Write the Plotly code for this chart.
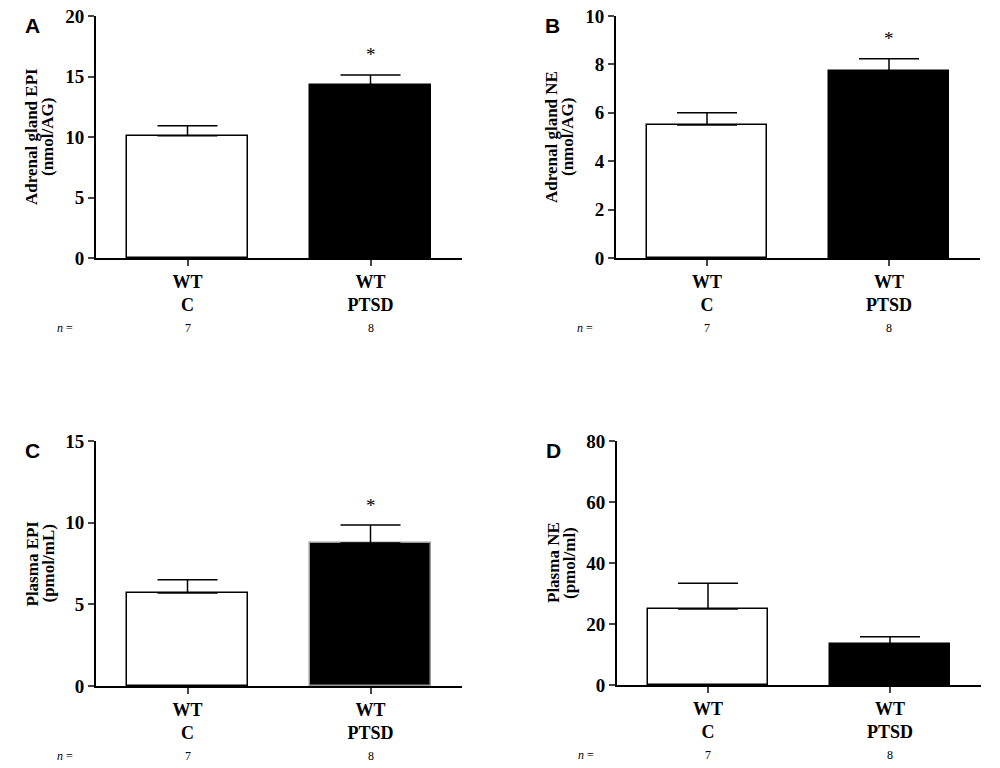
import plotly.graph_objects as go

# groups and counts
groups = ["WT<br>C", "WT<br>PTSD"]
n_counts = ["7", "8"]

# means and SEM
adrenal_epi = [10.1, 14.3]
adrenal_epi_sem = [0.83, 0.83]
adrenal_ne = [5.5, 7.73]
adrenal_ne_sem = [0.5, 0.5]
plasma_epi = [5.7, 8.75]
plasma_epi_sem = [0.8, 1.1]
plasma_ne = [24.9, 13.4]
plasma_ne_sem = [8.5, 2.4]

stars = [["", "*"], ["", "*"], ["", "*"], ["", ""]]

panels = [
    # letter, means, sem, y title lines, ymax, dtick, x span (px), y span (px from top)
    ("A", adrenal_epi, adrenal_epi_sem, ["Adrenal gland EPI", "(nmol/AG)"], 20, 5, (96, 462), (16, 258)),
    ("B", adrenal_ne, adrenal_ne_sem, ["Adrenal gland NE", "(nmol/AG)"], 10, 2, (616, 980), (16, 258)),
    ("C", plasma_epi, plasma_epi_sem, ["Plasma EPI", "(pmol/mL)"], 15, 5, (96, 462), (441, 686)),
    ("D", plasma_ne, plasma_ne_sem, ["Plasma NE", "(pmol/ml)"], 80, 20, (617, 981), (441, 685)),
]
outline = [["black", "black"], ["black", "black"], ["black", "#999999"], ["black", "black"]]

W, H = 1000, 768
serif = dict(family="Liberation Serif", color="black")


def px(x):
    return x / W


def py(y):
    return 1 - y / H


fig = go.Figure()
annotations = []
layout = {}

for i, (letter, means, sem, ytitle, ymax, dtick, xd, yd) in enumerate(panels):
    k = "" if i == 0 else str(i + 1)
    xa, ya = "x" + k, "y" + k
    fig.add_trace(go.Bar(
        x=[0, 1], y=means, width=0.66,
        marker=dict(color=["white", "black"], line=dict(color=outline[i], width=1.5)),
        error_y=dict(type="data", symmetric=False, array=sem, arrayminus=[0, 0],
                     color="black", thickness=1.5, width=30),
        xaxis=xa, yaxis=ya, showlegend=False,
    ))
    layout["xaxis" + k] = dict(
        domain=[px(xd[0]), px(xd[1])], anchor=ya, range=[-0.5, 1.5], automargin=False,
        tickvals=[0, 1], ticktext=groups, ticks="outside", ticklen=6, tickwidth=2,
        showline=True, linecolor="black", linewidth=2, showgrid=False, zeroline=False,
        ticklabeloverflow="allow",
        tickfont=dict(size=18, weight="bold", **serif),
    )
    layout["yaxis" + k] = dict(
        domain=[py(yd[1]), py(yd[0])], anchor=xa, range=[0, ymax], dtick=dtick, automargin=False,
        ticks="outside", ticklen=6, tickwidth=2,
        showline=True, linecolor="black", linewidth=2, showgrid=False, zeroline=False,
        ticklabeloverflow="allow",
        tickfont=dict(size=19, weight="bold", **serif),
    )
    # panel letter
    annotations.append(dict(text=letter, xref="paper", yref="paper",
                            x=px(xd[0] - 64), y=py(yd[0] + 9),
                            showarrow=False, xanchor="center", yanchor="middle",
                            font=dict(family="Liberation Sans", size=21, weight="bold", color="black")))
    # y title, two lines
    ymid = py((yd[0] + yd[1]) / 2)
    for j, line in enumerate(ytitle):
        annotations.append(dict(text=line, xref="paper", yref="paper",
                                x=px(xd[0] - 64 + 16 * j), y=ymid, textangle=-90,
                                showarrow=False, xanchor="center", yanchor="middle",
                                font=dict(size=17, weight="bold", **serif)))
    # significance stars
    for c in range(2):
        if stars[i][c]:
            annotations.append(dict(text=stars[i][c], xref=xa, yref=ya,
                                    x=c, y=means[c] + sem[c], yshift=20,
                                    showarrow=False, xanchor="center", yanchor="middle",
                                    font=dict(size=19, **serif)))
    # n row
    ny = py(yd[1] + 70)
    annotations.append(dict(text="<i>n</i> =", xref="paper", yref="paper",
                            x=px(xd[0] - 31), y=ny, showarrow=False,
                            xanchor="center", yanchor="middle",
                            font=dict(size=12, **serif)))
    for c in range(2):
        annotations.append(dict(text=n_counts[c], xref=xa, yref="paper",
                                x=c, y=ny, showarrow=False,
                                xanchor="center", yanchor="middle",
                                font=dict(size=12, **serif)))

fig.update_layout(
    width=W, height=H,
    margin=dict(l=0, r=0, t=0, b=0, autoexpand=False),
    plot_bgcolor="white", paper_bgcolor="white",
    bargap=0, annotations=annotations,
    **layout,
)

# drop the default page margin so the figure sits at the window corner
fig.write_html("out.html", config={"displayModeBar": False},
               post_script="document.body.style.margin='0';document.body.style.overflow='hidden';")
